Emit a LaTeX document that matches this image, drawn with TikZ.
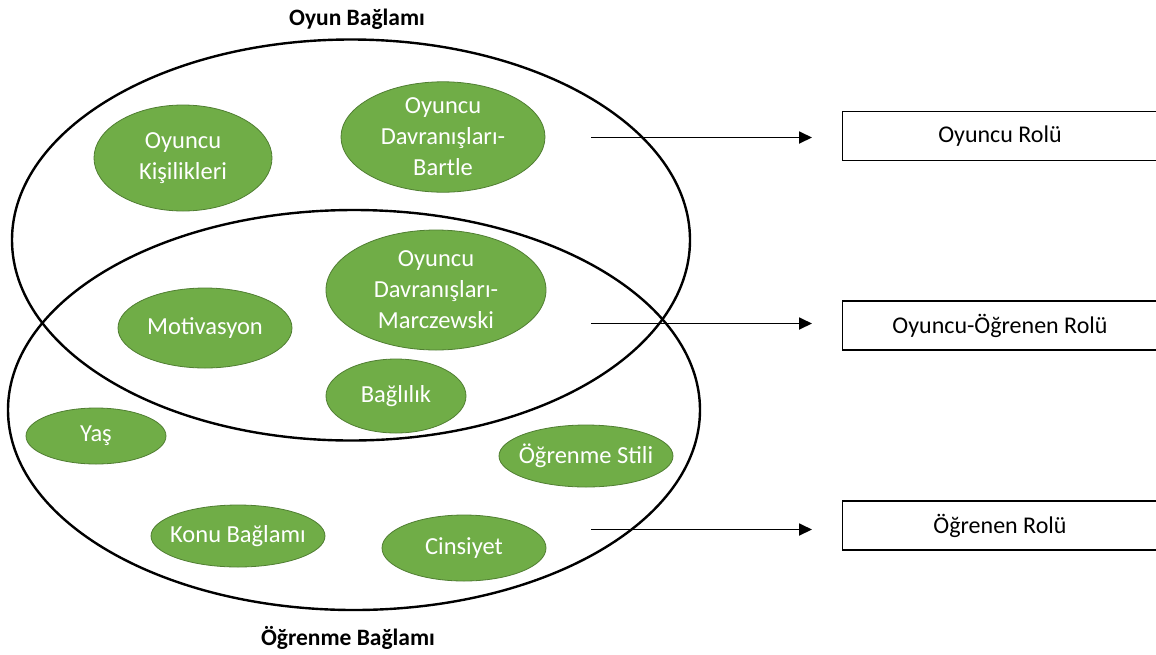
\documentclass[tikz,border=0pt]{standalone}
\usepackage{fontspec}
\setmainfont{Carlito}
\usetikzlibrary{shapes.geometric,arrows.meta}
\definecolor{leaf}{HTML}{70AD47}
\definecolor{leafdark}{HTML}{507E32}
\newcommand\blobtext[1]{\makebox[0pt]{#1}}
\tikzset{
  ctx/.style={draw=black,line width=2.4pt,ellipse,inner sep=0pt},
  blob/.style={ellipse,fill=leaf,draw=leafdark,line width=0.8pt,inner sep=0pt,
    text=white,align=center,font=\fontsize{24.5}{31}\selectfont},
  rolebox/.style={draw=black,line width=1.2pt,minimum width=316pt,minimum height=49pt,
    inner sep=0pt,anchor=west},
  rolelabel/.style={font=\fontsize{24}{28}\selectfont},
  conn/.style={line width=1.8pt,-{Triangle[length=13pt,width=12pt]},shorten >=30pt},
  title/.style={font=\bfseries\fontsize{23.5}{28}\selectfont}
}
\begin{document}
\begin{tikzpicture}[x=1pt,y=-1pt]
\useasboundingbox (0,0) rectangle (1156,654);
% context ellipses
\node[ctx,minimum width=678pt,minimum height=401pt] (oyun) at (351,240) {};
\node[ctx,minimum width=692pt,minimum height=400pt] (ogrenme) at (354,410) {};
\node[title] (toyun) at (357,19) {Oyun Bağlamı};
\node[title] (togrenme) at (348,638) {Öğrenme Bağlamı};
% green ellipses
\node[blob,minimum width=178pt,minimum height=106pt] (kisilik) at (183,158) {Oyuncu\\Kişilikleri};
\node[blob,minimum width=204pt,minimum height=110pt] (bartle) at (443,137) {Oyuncu\\Davranışları-\\Bartle};
\node[blob,minimum width=220pt,minimum height=120pt] (marc) at (436,290) {Oyuncu\\Davranışları-\\Marczewski};
\node[blob,minimum width=174pt,minimum height=80pt] (motiv) at (205,328) {Motivasyon};
\node[blob,minimum width=140pt,minimum height=74pt] (bag) at (396,396) {Bağlılık};
\node[blob,minimum width=140pt,minimum height=56pt] (yas) at (96,436) {Yaş};
\node[blob,minimum width=174pt,minimum height=62pt] (stil) at (586,456) {\blobtext{Öğrenme Stili}};
\node[blob,minimum width=174pt,minimum height=62pt] (konu) at (238,536) {\blobtext{Konu Bağlamı}};
\node[blob,minimum width=164pt,minimum height=66pt] (cins) at (464,548) {Cinsiyet};
% role boxes
\node[rolebox] (r1) at (842,136) {};
\node[rolelabel] (r1t) at (1000,136) {Oyuncu Rolü};
\node[rolebox] (r2) at (842,325.5) {};
\node[rolelabel] (r2t) at (1000,325.5) {Oyuncu-Öğrenen Rolü};
\node[rolebox] (r3) at (842,525.5) {};
\node[rolelabel] (r3t) at (1000,525.5) {Öğrenen Rolü};
% arrows
\coordinate (a1) at (591,137.5);
\coordinate (a2) at (591,323.5);
\coordinate (a3) at (591,529.5);
\draw[conn] (a1) -- (r1.west |- a1);
\draw[conn] (a2) -- (r2.west |- a2);
\draw[conn] (a3) -- (r3.west |- a3);
\end{tikzpicture}
\end{document}
